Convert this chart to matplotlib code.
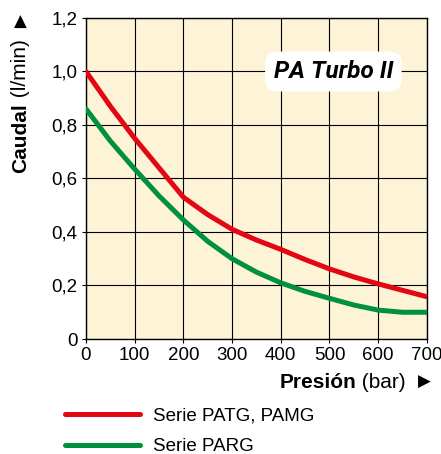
import numpy as np
import matplotlib
matplotlib.use('Agg')
import matplotlib.pyplot as plt
from matplotlib import rcParams

rcParams.update({'font.family': ['Liberation Sans', 'DejaVu Sans'], 'font.size': 13.5})

# data
presion = [0, 50, 100, 150, 200, 250, 300, 350, 400, 450, 500, 550, 600, 650, 700]
caudal_patg = [1.0, 0.87, 0.75, 0.64, 0.53, 0.465, 0.41, 0.37, 0.335, 0.297, 0.262, 0.232, 0.206, 0.182, 0.158]
caudal_parg = [0.86, 0.74, 0.635, 0.535, 0.445, 0.365, 0.30, 0.25, 0.21, 0.178, 0.152, 0.127, 0.108, 0.10, 0.10]
series_names = ['Serie PATG, PAMG', 'Serie PARG']
colors = ['#e30613', '#00913f']
xticks = [0, 100, 200, 300, 400, 500, 600, 700]
yticks = [0, 0.2, 0.4, 0.6, 0.8, 1.0, 1.2]
ytick_labels = ['0', '0,2', '0,4', '0,6', '0,8', '1,0', '1,2']

fig = plt.figure(figsize=(4.41, 4.54), dpi=100)
ax = fig.add_axes([0.195, 0.2533, 0.773, 0.7071])
ax.set_facecolor('#fdf3d7')

lines = []
for ys, c, name in zip([caudal_patg, caudal_parg], colors, series_names):
    l, = ax.plot(presion, ys, '-', c=c, lw=3.6, solid_capstyle='round', label=name, zorder=3)
    lines.append(l)

ax.set_xlim(0, 700)
ax.set_ylim(0, 1.2)
ax.set_xticks(xticks)
ax.set_yticks(yticks)
ax.set_yticklabels(ytick_labels)
ax.grid(True, color='black', lw=0.8)
ax.set_axisbelow(True)
for s in ax.spines.values():
    s.set_linewidth(1.0)
ax.tick_params(direction='out', length=3, width=0.8, pad=3, labelsize=13.5)

# title box
ax.text(508, 1.0, 'PA Turbo II', fontsize=17.5, fontweight='bold', fontstyle='italic',
        family=['Roboto', 'Liberation Sans'], ha='center', va='center', zorder=5,
        bbox=dict(boxstyle='round,pad=0.35,rounding_size=0.5', fc='white', ec='none'))

# x label: bold part + normal part, arrow at right
t1 = fig.text(0.633, 0.158, 'Presión', fontweight='bold', fontsize=15, ha='left', va='center')
t2 = ax.annotate(' (bar)', xy=(1, 0), xycoords=t1, ha='left', va='bottom', fontsize=15,
                 annotation_clip=False)
fig.text(0.976, 0.158, '▶', fontsize=12, family='DejaVu Sans', ha='right', va='center')

# y label
u1 = fig.text(0.046, 0.62, 'Caudal', fontweight='bold', fontsize=15, rotation=90,
              ha='center', va='bottom')
u2 = ax.annotate(' (l/min)', xy=(0.5, 1), xycoords=u1, ha='center', va='bottom',
                 rotation=90, fontsize=15, annotation_clip=False)
fig.text(0.046, 0.952, '▲', fontsize=12, family='DejaVu Sans', ha='center', va='center')

fig.legend(lines, series_names, loc='upper left', bbox_to_anchor=(0.13, 0.12),
           frameon=False, handlelength=4.0, handletextpad=0.7, labelspacing=0.75,
           fontsize=13.5, borderaxespad=0)

fig.savefig('out.png', dpi=100)
